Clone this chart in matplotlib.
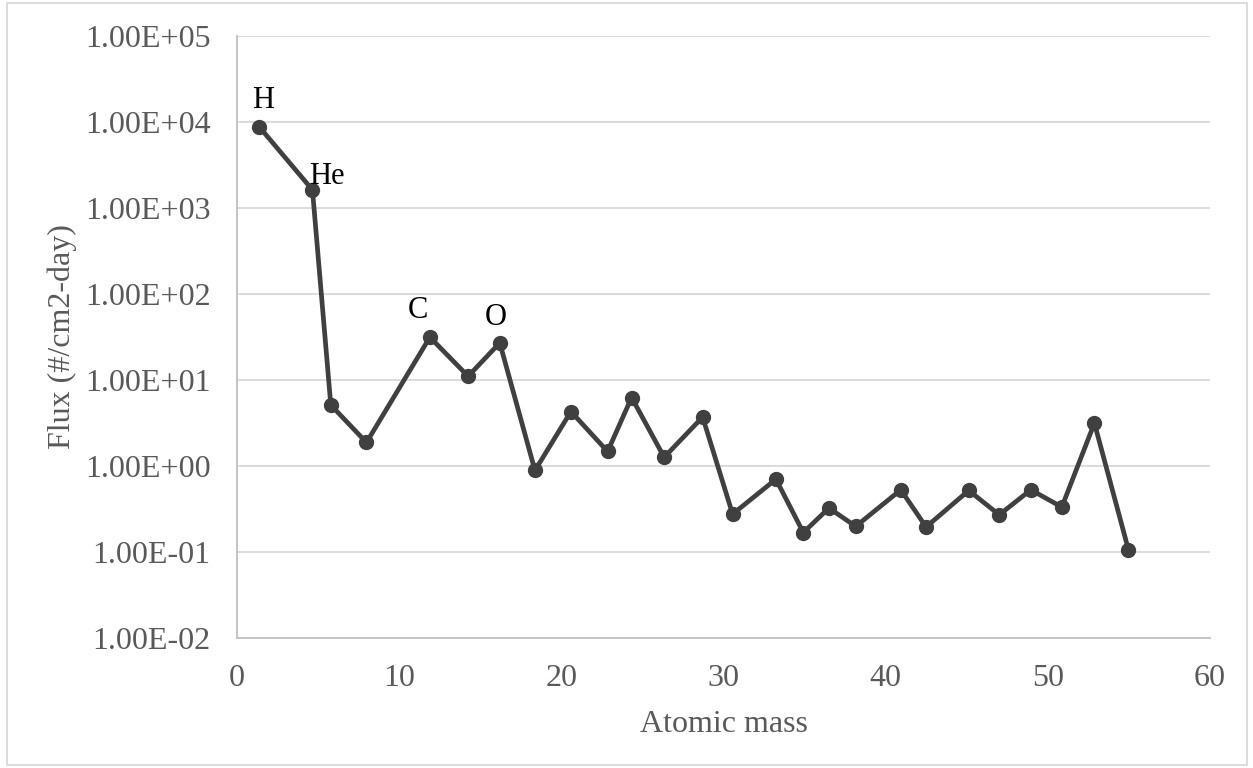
import matplotlib
matplotlib.use("Agg")
import matplotlib.pyplot as plt
from matplotlib.patches import Rectangle

atomic_mass = [1.36, 4.65, 5.78, 7.98, 11.89, 14.25, 16.2, 18.37, 20.59, 22.85,
               24.33, 26.34, 28.71, 30.56, 33.23, 34.92, 36.5, 38.15, 40.93, 42.49,
               45.12, 47.0, 48.95, 50.86, 52.87, 54.97]
flux = [8750, 1610, 5.1, 1.87, 31.3, 11.0, 26.9, 0.885, 4.28, 1.47,
        6.23, 1.26, 3.69, 0.275, 0.70, 0.168, 0.324, 0.198, 0.527, 0.195,
        0.518, 0.270, 0.527, 0.332, 3.14, 0.106]
labels = {0: "H", 1: "He", 4: "C", 6: "O"}
label_offsets = {0: (4, 26), 1: (14, 13), 4: (-12, 27), 6: (-4, 25)}
yticks = [1e-2, 1e-1, 1e0, 1e1, 1e2, 1e3, 1e4, 1e5]
ytick_labels = ["1.00E-02", "1.00E-01", "1.00E+00", "1.00E+01", "1.00E+02",
                "1.00E+03", "1.00E+04", "1.00E+05"]
xticks = [0, 10, 20, 30, 40, 50, 60]

plt.rcParams['font.family'] = ['Liberation Serif', 'DejaVu Serif']

fig = plt.figure(figsize=(12.53, 7.68), dpi=100)
ax = fig.add_axes([0.1892, 0.1693, 0.9657 - 0.1892, 0.9536 - 0.1693])

ax.plot(atomic_mass, flux, color='#404040', lw=3.4, marker='o', ms=10,
        markerfacecolor='#404040', markeredgecolor='#404040', zorder=3)
for i, t in labels.items():
    dx, dy = label_offsets[i]
    ax.annotate(t, (atomic_mass[i], flux[i]), xytext=(dx, dy),
                textcoords='offset pixels', ha='center', va='center',
                fontsize=22, color='black', zorder=4)

ax.set_yscale('log')
ax.set_ylim(1e-2, 1e5)
ax.set_xlim(0, 60)
ax.set_yticks(yticks)
ax.set_yticklabels(ytick_labels)
ax.minorticks_off()
ax.set_xticks(xticks)
ax.tick_params(axis='both', length=0, labelsize=23, colors='#595959')
ax.tick_params(axis='y', pad=19)
ax.tick_params(axis='x', pad=19)
ax.grid(axis='y', color='#d9d9d9', lw=1.3)
ax.set_axisbelow(True)
for s in ['top', 'right']:
    ax.spines[s].set_visible(False)
for s in ['left', 'bottom']:
    ax.spines[s].set_color('#bfbfbf')
    ax.spines[s].set_linewidth(1.3)

ax.set_xlabel("Atomic mass", fontsize=23, color='#595959', labelpad=12)
ax.set_ylabel("Flux (#/cm2-day)", fontsize=23, color='#595959', labelpad=6)

fig.patches.append(Rectangle((0.0056, 0.004), 0.99, 0.992, transform=fig.transFigure,
                             fill=False, edgecolor='#d9d9d9', lw=1.3))

fig.savefig("out.png", dpi=100)
